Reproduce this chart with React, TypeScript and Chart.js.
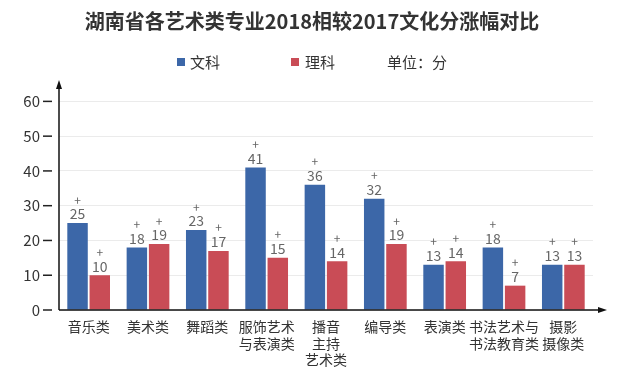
import React, { useEffect, useRef } from "react";
import { Chart, registerables } from "chart.js";
Chart.register(...registerables);

const categories: string[][] = [
  ["音乐类"],
  ["美术类"],
  ["舞蹈类"],
  ["服饰艺术", "与表演类"],
  ["播音", "主持", "艺术类"],
  ["编导类"],
  ["表演类"],
  ["书法艺术与", "书法教育类"],
  ["摄影", "摄像类"],
];
const wenke = [25, 18, 23, 41, 36, 32, 13, 18, 13];
const like = [10, 19, 17, 15, 14, 19, 14, 7, 13];
const yTicks = [0, 10, 20, 30, 40, 50, 60];
const seriesNames = ["文科", "理科"];
const titleText = "湖南省各艺术类专业2018相较2017文化分涨幅对比";
const unitText = "单位：分";

const FONT = "'Noto Sans CJK SC', 'Microsoft YaHei', sans-serif";
const BLUE = "#3c67a8";
const RED = "#c94c56";

const decoPlugin = {
  id: "deco",
  afterDraw(chart: any) {
    const ctx = chart.ctx as CanvasRenderingContext2D;
    const area = chart.chartArea;
    const yScale = chart.scales.y;
    ctx.save();

    // title
    ctx.fillStyle = "#333";
    ctx.font = `bold 20px ${FONT}`;
    ctx.textAlign = "center";
    ctx.textBaseline = "middle";
    ctx.fillText(titleText, 312, 21);

    // legend
    ctx.font = `15px ${FONT}`;
    ctx.textAlign = "left";
    ctx.fillStyle = BLUE;
    ctx.fillRect(177, 58, 8, 8);
    ctx.fillStyle = RED;
    ctx.fillRect(291, 58, 8, 8);
    ctx.fillStyle = "#333";
    ctx.fillText(seriesNames[0], 190, 62);
    ctx.fillText(seriesNames[1], 305, 62);
    ctx.fillText(unitText, 387, 62);

    // axes
    ctx.strokeStyle = "#111";
    ctx.fillStyle = "#111";
    ctx.lineWidth = 1.5;
    const x0 = area.left;
    const y0 = area.bottom;
    ctx.beginPath();
    ctx.moveTo(x0, y0);
    ctx.lineTo(x0, area.top + 2);
    ctx.stroke();
    ctx.beginPath();
    ctx.moveTo(x0, area.top - 4);
    ctx.lineTo(x0 - 3, area.top + 5);
    ctx.lineTo(x0 + 3, area.top + 5);
    ctx.closePath();
    ctx.fill();

    ctx.beginPath();
    ctx.moveTo(x0, y0);
    ctx.lineTo(area.right + 8, y0);
    ctx.stroke();
    ctx.beginPath();
    ctx.moveTo(area.right + 14, y0);
    ctx.lineTo(area.right + 5, y0 - 3);
    ctx.lineTo(area.right + 5, y0 + 3);
    ctx.closePath();
    ctx.fill();

    // y tick marks
    ctx.lineWidth = 1.5;
    ctx.strokeStyle = "#222";
    yTicks.forEach((v) => {
      const py = yScale.getPixelForValue(v);
      ctx.beginPath();
      ctx.moveTo(x0 - 16, py);
      ctx.lineTo(x0 - 7, py);
      ctx.stroke();
    });

    // data labels
    chart.data.datasets.forEach((ds: any, i: number) => {
      const meta = chart.getDatasetMeta(i);
      meta.data.forEach((el: any, j: number) => {
        const v = ds.data[j];
        ctx.fillStyle = "#666";
        ctx.textAlign = "center";
        ctx.textBaseline = "middle";
        ctx.font = `14px ${FONT}`;
        ctx.fillText(String(v), el.x, el.y - 9);
        ctx.font = `12px ${FONT}`;
        ctx.fillText("+", el.x, el.y - 23);
      });
    });
    ctx.restore();
  },
};

export default function App() {
  const ref = useRef<HTMLCanvasElement | null>(null);
  useEffect(() => {
    document.body.style.margin = "0";
    const chart = new Chart(ref.current as HTMLCanvasElement, {
      type: "bar",
      data: {
        labels: categories,
        datasets: [
          { label: seriesNames[0], data: wenke, backgroundColor: BLUE },
          { label: seriesNames[1], data: like, backgroundColor: RED },
        ],
      },
      options: {
        responsive: false,
        animation: false,
        layout: { padding: { top: 84, right: 48, left: 0, bottom: 0 } },
        categoryPercentage: 0.75,
        barPercentage: 0.92,
        plugins: {
          legend: { display: false },
          title: { display: false },
          tooltip: { enabled: false },
        },
        scales: {
          x: {
            grid: { display: false, drawTicks: false },
            border: { display: false },
            ticks: {
              font: { family: FONT, size: 14 },
              color: "#333",
              padding: 8,
              maxRotation: 0,
              autoSkip: false,
            },
            afterFit: (s: any) => {
              s.height = 62;
            },
          },
          y: {
            min: 0,
            max: 65,
            afterBuildTicks: (s: any) => {
              s.ticks = yTicks.map((v) => ({ value: v }));
            },
            grid: { color: "#ebebeb", drawTicks: false },
            border: { display: false },
            ticks: {
              font: { family: FONT, size: 15 },
              color: "#333",
              padding: 19,
            },
            afterFit: (s: any) => {
              s.width = 59;
            },
          },
        },
      } as any,
      plugins: [decoPlugin],
    });
    return () => chart.destroy();
  }, []);
  return (
    <div style={{ width: 641, height: 372, background: "#fff" }}>
      <canvas ref={ref} width={641} height={372} />
    </div>
  );
}
